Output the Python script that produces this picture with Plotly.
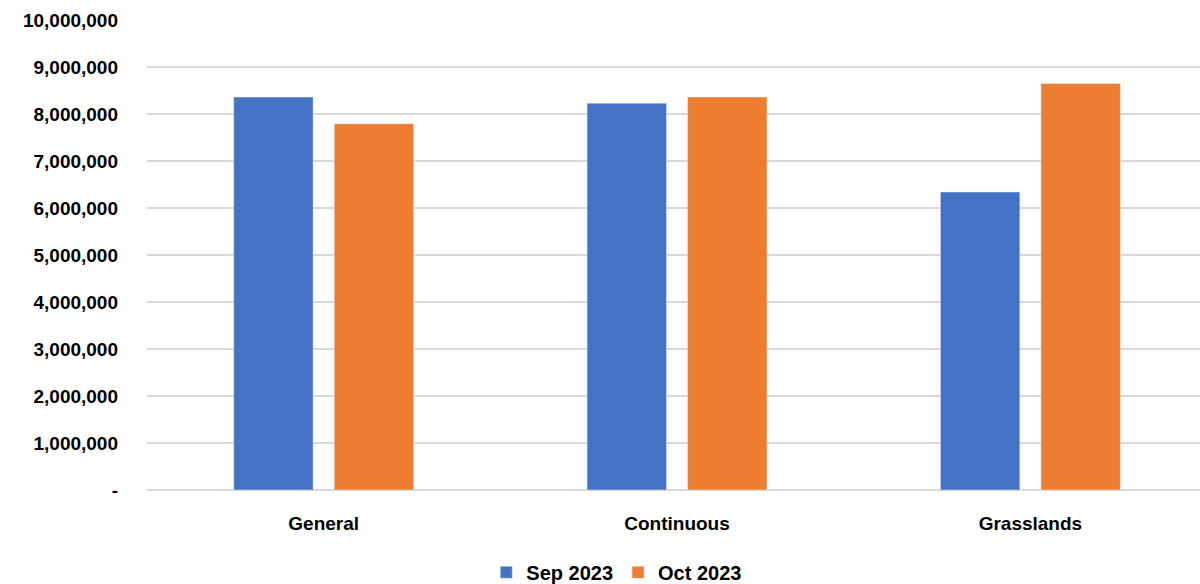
import plotly.graph_objects as go

categories = ["General", "Continuous", "Grasslands"]
sep_2023 = [8360000, 8230000, 6340000]
oct_2023 = [7790000, 8360000, 8650000]
tick_values = [0, 1000000, 2000000, 3000000, 4000000, 5000000, 6000000, 7000000, 8000000, 9000000, 10000000]
tick_labels = ["-", "1,000,000", "2,000,000", "3,000,000", "4,000,000", "5,000,000",
               "6,000,000", "7,000,000", "8,000,000", "9,000,000", "10,000,000"]

FONT = "Liberation Sans, Arial, sans-serif"

fig = go.Figure()
fig.add_trace(go.Bar(name="Sep 2023", x=categories, y=sep_2023, marker_color="#4472C4"))
fig.add_trace(go.Bar(name="Oct 2023", x=categories, y=oct_2023, marker_color="#ED7D31"))

fig.update_layout(
    width=1200, height=584,
    margin=dict(l=147, r=0, t=20, b=94),
    paper_bgcolor="white", plot_bgcolor="white",
    barmode="group", bargap=0.431, bargroupgap=0.21,
    font=dict(family=FONT, size=19, color="black", weight="bold"),
    showlegend=True,
    legend=dict(orientation="h", xref="container", yref="container",
                x=0.514, y=0.02, xanchor="center", yanchor="middle",
                font=dict(family=FONT, size=20, weight="bold"),
                itemwidth=30, traceorder="normal"),
    xaxis=dict(range=[-0.5, 2.48], showgrid=False, showline=False, ticks="",
               ticklabelstandoff=20,
               tickfont=dict(family=FONT, size=19, weight="bold")),
    yaxis=dict(range=[0, 10000000], tickvals=tick_values, ticktext=tick_labels,
               showgrid=True, gridcolor="#d9d9d9", gridwidth=2,
               zeroline=True, zerolinecolor="#d9d9d9", zerolinewidth=2,
               showline=False, ticks="", ticklabelstandoff=28,
               tickfont=dict(family=FONT, size=19, weight="bold")),
)

fig.write_html("out.html")
